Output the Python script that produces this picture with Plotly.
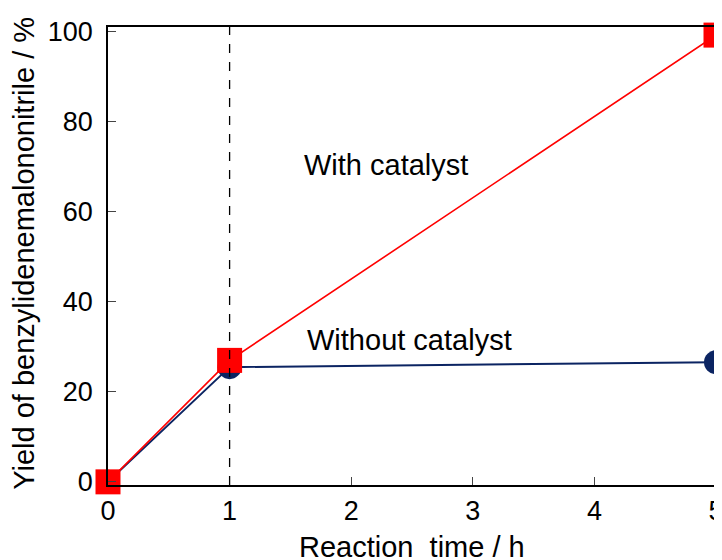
import plotly.graph_objects as go

time_h = [0, 1, 5]
with_catalyst = [0, 27, 99.3]
without_catalyst = [0, 25.5, 26.6]
x_ticks = [0, 1, 2, 3, 4, 5]
y_ticks = [0, 20, 40, 60, 80, 100]
dashed_x = 1

FONT = "Liberation Sans, Arial, sans-serif"

fig = go.Figure()
fig.add_trace(go.Scatter(
    x=time_h, y=without_catalyst, mode="lines+markers",
    line=dict(color="#0b2462", width=2),
    marker=dict(symbol="circle", size=24, color="#0b2462"),
    cliponaxis=False, showlegend=False))
fig.add_trace(go.Scatter(
    x=time_h, y=with_catalyst, mode="lines+markers",
    line=dict(color="#ff0000", width=1.6),
    marker=dict(symbol="square", size=25, color="#ff0000"),
    cliponaxis=False, showlegend=False))

fig.add_shape(type="line", x0=dashed_x, x1=dashed_x, y0=0, y1=1,
              xref="x", yref="paper",
              line=dict(color="black", width=1.3, dash="dash"))

fig.add_annotation(x=2.29, y=70.4, text="With catalyst", showarrow=False,
                   xanchor="center", yanchor="middle",
                   font=dict(family=FONT, size=29, color="black"))
fig.add_annotation(x=2.48, y=31.6, text="Without catalyst", showarrow=False,
                   xanchor="center", yanchor="middle",
                   font=dict(family=FONT, size=29, color="black"))

# axis titles (page has an 8px body offset; plot area spans 100..708 x 19..477 in figure px)
fig.add_annotation(xref="paper", yref="paper", x=0.5, y=-0.135,
                   xanchor="center", yanchor="middle",
                   text="Reaction  time / h", showarrow=False,
                   font=dict(family=FONT, size=29, color="black"))
fig.add_annotation(xref="paper", yref="paper", x=-0.138, y=0.505,
                   xanchor="center", yanchor="middle",
                   text="Yield of benzylidenemalononitrile / %", showarrow=False,
                   textangle=-90,
                   font=dict(family=FONT, size=29, color="black"))

fig.update_layout(
    width=722, height=560,
    margin=dict(l=100, r=14, t=19, b=83),
    paper_bgcolor="white", plot_bgcolor="white",
    font=dict(family=FONT, size=27, color="black"),
    xaxis=dict(range=[0, 5], tickvals=x_ticks, ticks="inside", ticklen=8,
               tickwidth=1.3, showline=True, mirror=True, linecolor="black",
               linewidth=1.8, showgrid=False, zeroline=False, automargin=False,
               tickfont=dict(size=27), ticklabelstandoff=1),
    yaxis=dict(range=[-0.7, 101.1], tickvals=y_ticks, ticks="inside", ticklen=8,
               tickwidth=1.3, showline=True, mirror=True, linecolor="black",
               linewidth=1.8, showgrid=False, zeroline=False, automargin=False,
               tickfont=dict(size=27), ticklabelstandoff=8),
)

fig.write_html("out.html")
